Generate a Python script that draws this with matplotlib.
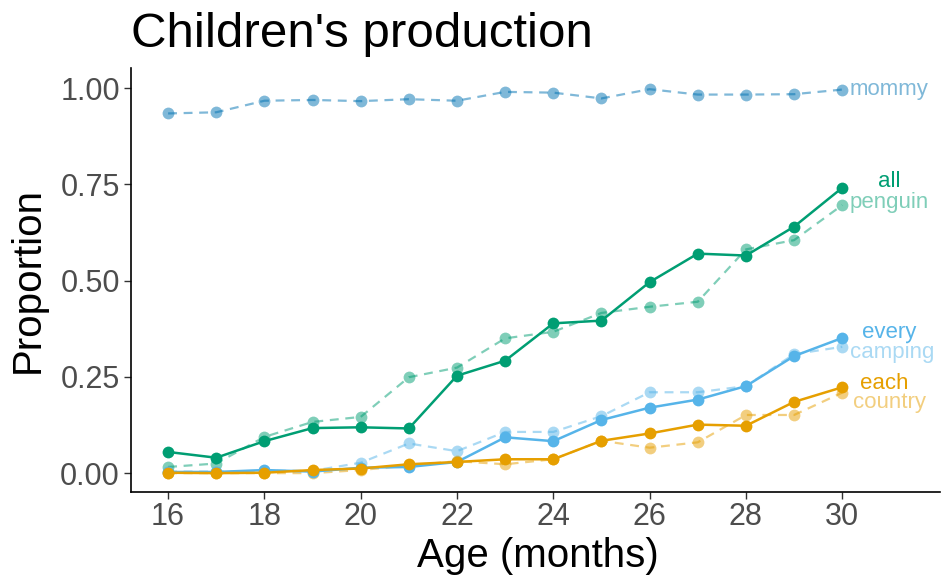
import matplotlib
matplotlib.use("Agg")
import matplotlib.pyplot as plt

plt.rcParams['font.family'] = ['Liberation Sans', 'DejaVu Sans']

age = [16, 17, 18, 19, 20, 21, 22, 23, 24, 25, 26, 27, 28, 29, 30]

mommy = [0.934, 0.937, 0.967, 0.969, 0.966, 0.971, 0.967, 0.990, 0.988, 0.973, 0.997, 0.983, 0.983, 0.984, 0.996]
all_ = [0.055, 0.040, 0.083, 0.117, 0.119, 0.116, 0.253, 0.292, 0.389, 0.396, 0.496, 0.570, 0.565, 0.640, 0.741]
penguin = [0.016, 0.025, 0.094, 0.133, 0.146, 0.249, 0.274, 0.350, 0.367, 0.416, 0.432, 0.445, 0.581, 0.605, 0.696]
every = [0.003, 0.003, 0.008, 0.004, 0.014, 0.016, 0.029, 0.093, 0.083, 0.138, 0.170, 0.191, 0.226, 0.304, 0.351]
camping = [0.004, 0.004, 0.006, 0.006, 0.027, 0.077, 0.057, 0.107, 0.107, 0.148, 0.210, 0.210, 0.226, 0.309, 0.328]
each = [0.001, 0.000, 0.001, 0.008, 0.012, 0.023, 0.029, 0.036, 0.036, 0.084, 0.103, 0.126, 0.123, 0.185, 0.223]
country = [0.000, 0.000, 0.000, 0.000, 0.008, 0.020, 0.031, 0.023, 0.036, 0.084, 0.066, 0.080, 0.151, 0.151, 0.209]

GREEN, BLUE, ORANGE, DARKBLUE = "#009E73", "#56B4E9", "#E69F00", "#0072B2"

# (values, colour, label, dashed, label position)
series = [
    (mommy, DARKBLUE, "mommy", True, (30.98, 0.997)),
    (penguin, GREEN, "penguin", True, (30.98, 0.704)),
    (camping, BLUE, "camping", True, (31.03, 0.312)),
    (country, ORANGE, "country", True, (30.98, 0.184)),
    (all_, GREEN, "all", False, (30.98, 0.758)),
    (every, BLUE, "every", False, (30.98, 0.366)),
    (each, ORANGE, "each", False, (30.88, 0.234)),
]

fig = plt.figure(figsize=(9.42, 5.81), dpi=100)
ax = fig.add_axes([131/942, 1 - 492/581, (940 - 131)/942, (492 - 68)/581])

for vals, col, name, dashed, (lx, ly) in series:
    if dashed:
        ax.plot(age, vals, linestyle=(0, (4, 3)), color=col, alpha=0.5, lw=1.6,
                marker="o", markersize=8.5, markeredgewidth=0)
        ax.text(lx, ly, name, color=col, alpha=0.5, fontsize=16, ha="center", va="center")
    else:
        ax.plot(age, vals, linestyle="-", color=col, lw=1.8,
                marker="o", markersize=8.5, markeredgewidth=0)
        ax.text(lx, ly, name, color=col, fontsize=16, ha="center", va="center")

ax.set_xlim(15.23, 32.03)
ax.set_ylim(-0.049, 1.052)
ax.set_xticks(range(16, 31, 2))
ax.set_yticks([0, 0.25, 0.5, 0.75, 1.0])
ax.set_yticklabels(["0.00", "0.25", "0.50", "0.75", "1.00"])
ax.tick_params(labelsize=22, labelcolor="#4D4D4D", color="#333333", length=5, width=1)
ax.tick_params(axis="x", pad=2)
ax.tick_params(axis="y", pad=3)
for s in ["top", "right"]:
    ax.spines[s].set_visible(False)
for s in ["left", "bottom"]:
    ax.spines[s].set_linewidth(1.2)

fig.text(131/942, 1 - 47/581, "Children's production", fontsize=35.5, ha="left", va="baseline")
fig.text(538/942, 1 - 567/581, "Age (months)", fontsize=29, ha="center", va="baseline")
fig.text(28/942, 1 - 280/581, "Proportion", fontsize=29, ha="center", va="center", rotation=90)

fig.savefig("out.png", dpi=100)
